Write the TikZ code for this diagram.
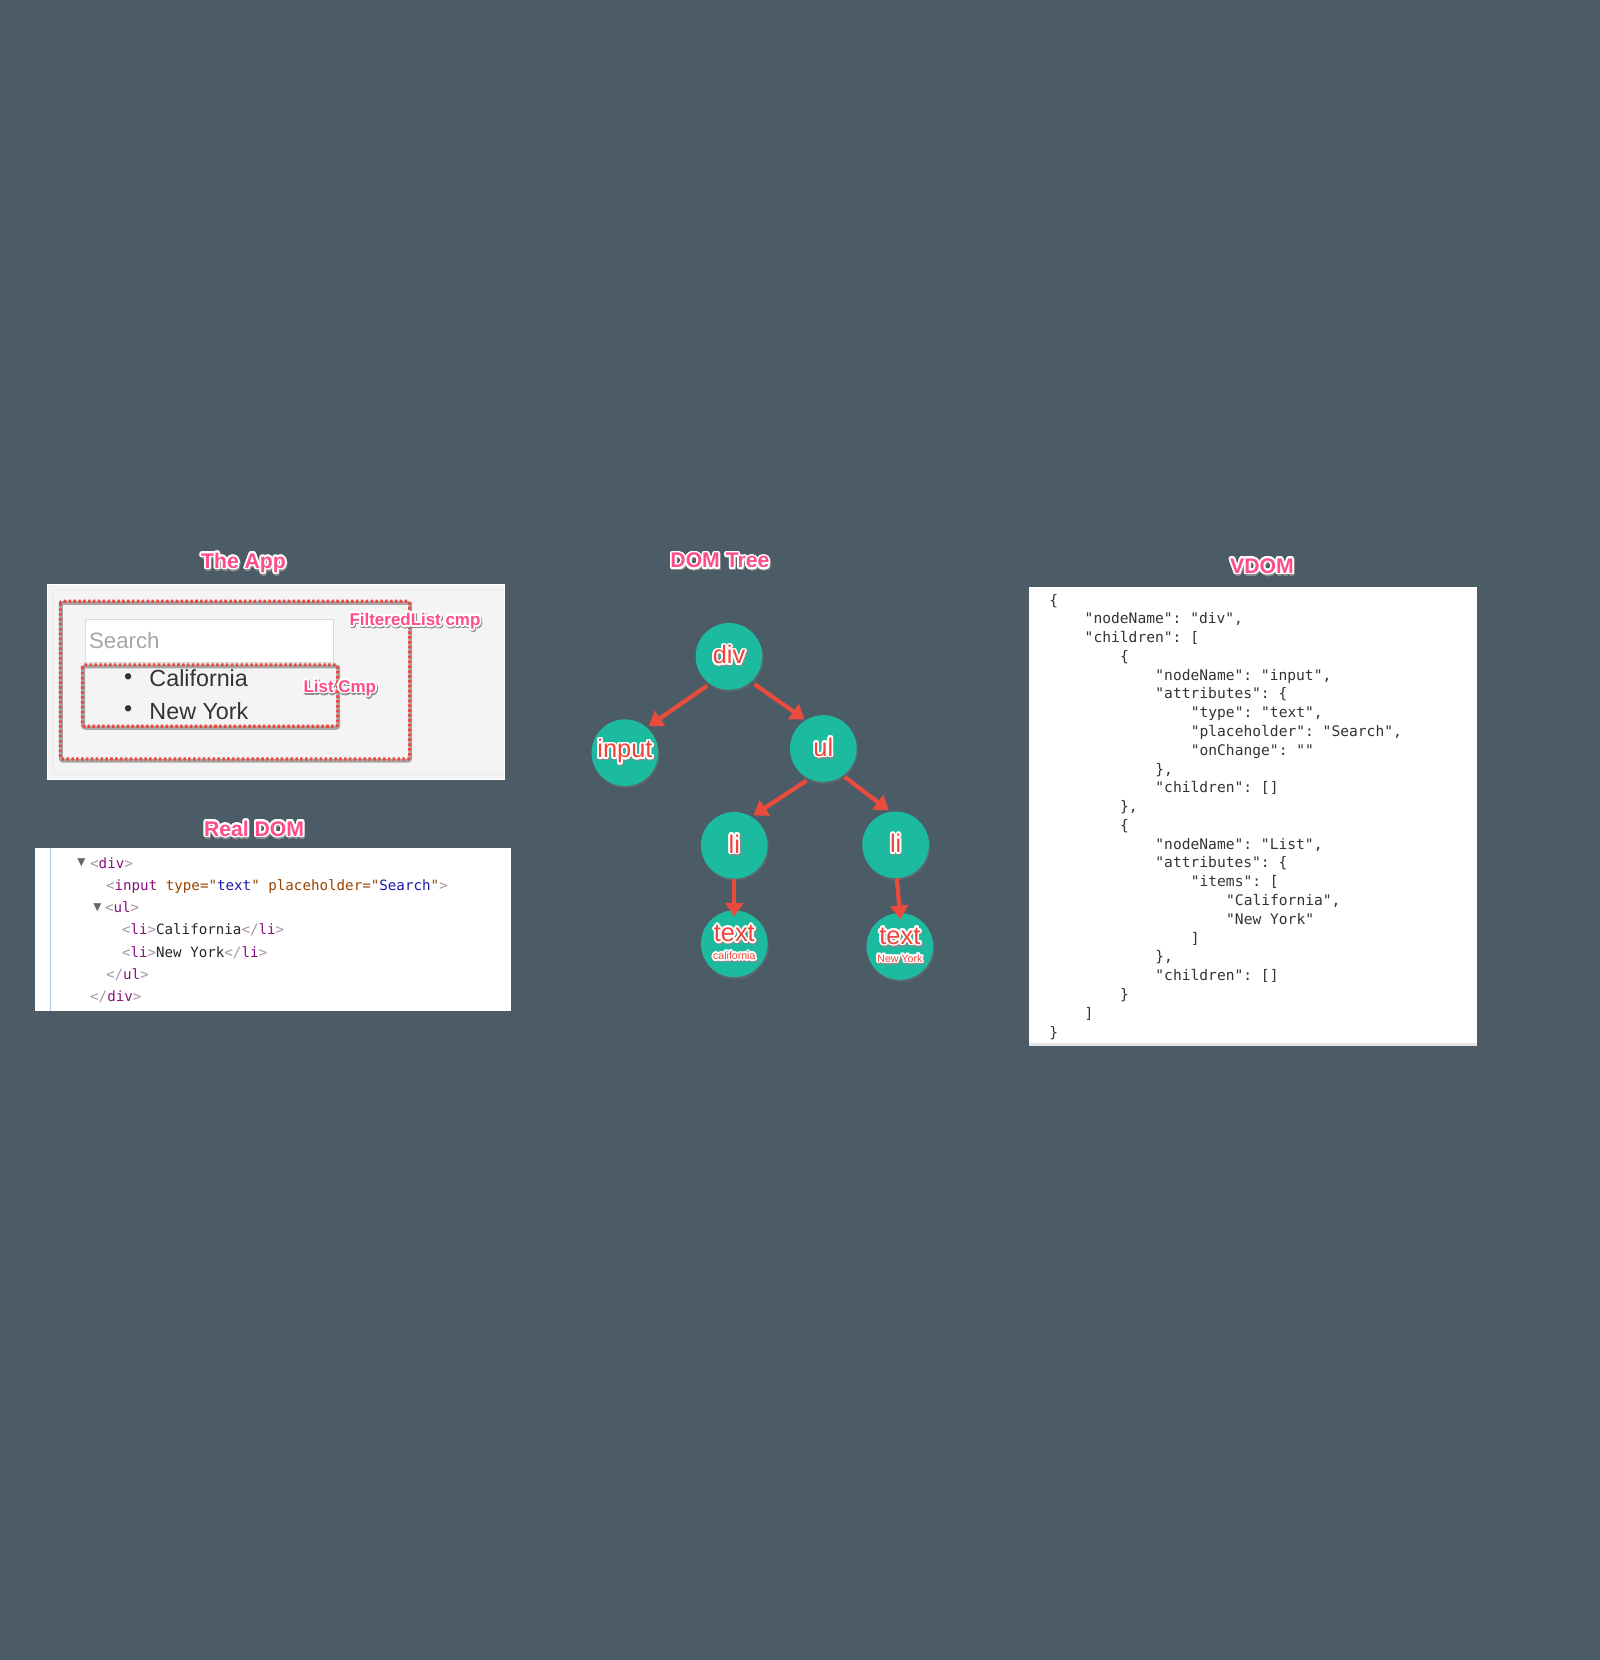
\documentclass[tikz,border=0pt]{standalone}
\usepackage{fontspec}
\setmainfont{Liberation Sans}
\newfontfamily\codefont{DejaVu Sans Mono}
\newfontfamily\symfont{DejaVu Sans}
\usepackage{xcolor}
\usepackage{contour}
\usetikzlibrary{positioning,arrows.meta,shadows}
\contourlength{1.6pt}
\contournumber{24}
\definecolor{slate}{RGB}{75,92,103}
\definecolor{panelgray}{RGB}{244,244,244}
\definecolor{nodeteal}{RGB}{28,186,158}
\definecolor{titlepink}{RGB}{255,76,138}
\definecolor{labelred}{RGB}{240,68,58}
\definecolor{arrowred}{RGB}{233,76,61}
\definecolor{dotred}{RGB}{236,72,62}
\definecolor{tagpurple}{RGB}{136,18,128}
\definecolor{attrbrown}{RGB}{153,69,0}
\definecolor{valblue}{RGB}{26,26,166}
\definecolor{brgray}{RGB}{168,148,166}
\definecolor{lineblue}{RGB}{170,198,238}
\newcommand{\outl}[1]{\makebox[0pt][l]{\hspace{0.8pt}\raisebox{-1.2pt}{\color{black!45}\contour{black!45}{#1}}}\contour{white}{#1}}
\newcommand{\br}[1]{\textcolor{brgray}{#1}}
\newcommand{\tg}[1]{\textcolor{tagpurple}{#1}}
\newcommand{\at}[1]{\textcolor{attrbrown}{#1}}
\newcommand{\vl}[1]{\textcolor{valblue}{#1}}
\tikzset{
  title/.style={font=\fontsize{20}{20}\selectfont\bfseries, text=titlepink, inner sep=0pt},
  cmplabel/.style={font=\fontsize{16}{16}\selectfont\bfseries, text=titlepink, inner sep=0pt},
  ball/.style={circle, fill=nodeteal, minimum size=63pt, inner sep=0pt, text=labelred,
    font=\fontsize{24}{24}\selectfont,
    drop shadow={opacity=0.3, shadow xshift=1pt, shadow yshift=-2pt}},
  link/.style={draw=arrowred, line width=4pt, -{Triangle[length=13pt,width=17pt]}},
  dotshade/.style={draw=black!60, line width=3.6pt, opacity=0.55, rounded corners=2pt},
  dotbox/.style={draw=dotred, line width=3pt, dash pattern=on 2.4pt off 2.2pt, rounded corners=2pt},
  code/.style={font=\codefont\fontsize{13.4}{13.4}\selectfont\frenchspacing, text=black!85, inner sep=0pt, anchor=base west},
  json/.style={font=\codefont\fontsize{13.8}{13.8}\selectfont\frenchspacing, text=black!80, inner sep=0pt, anchor=base west},
  applist/.style={font=\fontsize{22}{22}\selectfont, text=black!80, inner sep=0pt}
}
\begin{document}
\begin{tikzpicture}[x=1pt, y=-1pt]
  \fill[slate] (0,0) rectangle (1511,1568);

  % the app
  \node[title] (apptitle) at (230,533) {\outl{The App}};
  \fill[panelgray, draw=white] (45,552) rectangle (476,736);
  \begin{scope}
    \clip (45,552) rectangle (476,736);
    \draw[black!12, rounded corners=4pt] (50,557) rectangle (490,732);
  \end{scope}
  \node[draw=black!15, fill=white, minimum width=235pt, minimum height=40pt, anchor=north west,
        inner sep=0pt] (searchbox) at (80,585) {};
  \node[anchor=west, inner sep=0pt, text=black!35, font=\fontsize{21}{21}\selectfont]
        (placeholder) at (84,605) {Search};
  \node[applist] (bullet1) at (121,641) {\textbullet};
  \node[applist, anchor=west] (item1) at (141,641) {California};
  \node[applist] (bullet2) at (121,672) {\textbullet};
  \node[applist, anchor=west] (item2) at (141,672) {New York};
  \draw[dotshade] (57.5,569.5) rectangle (387.5,718.5);
  \draw[dotbox] (57,568) rectangle (387,717);
  \draw[dotshade] (78.5,629.5) rectangle (319.5,687.5);
  \draw[dotbox] (78,628) rectangle (319,686);
  \node[cmplabel] (filteredlbl) at (392,588) {\outl{FilteredList cmp}};
  \node[cmplabel] (listlbl) at (321,651) {\outl{List Cmp}};

  % real dom
  \node[title] (realtitle) at (240,784) {\outl{Real DOM}};
  \fill[white] (33,801) rectangle (483,955);
  \draw[lineblue, line width=1pt] (48,801) -- (48,955);
  \node[inner sep=0pt, text=black!60, font=\symfont\fontsize{10}{10}\selectfont] (tri1) at (77,815) {▼};
  \node[code] (r1) at (85,820) {\br{<}\tg{div}\br{>}};
  \node[code] (r2) at (100,841) {\br{<}\tg{input} \at{type="}\vl{text}\at{"} \at{placeholder="}\vl{Search}\at{"}\br{>}};
  \node[inner sep=0pt, text=black!60, font=\symfont\fontsize{10}{10}\selectfont] (tri2) at (92,857) {▼};
  \node[code] (r3) at (99,862) {\br{<}\tg{ul}\br{>}};
  \node[code] (r4) at (115,883) {\br{<}\tg{li}\br{>}California\br{</}\tg{li}\br{>}};
  \node[code] (r5) at (115,904) {\br{<}\tg{li}\br{>}New York\br{</}\tg{li}\br{>}};
  \node[code] (r6) at (100,925) {\br{</}\tg{ul}\br{>}};
  \node[code] (r7) at (85,946) {\br{</}\tg{div}\br{>}};

  % dom tree
  \node[title] (treetitle) at (680,531) {\outl{DOM Tree}};
  \node[ball] (div) at (688.6,620) {\outl{div}};
  \node[ball] (input) at (590.3,711) {\outl{input}};
  \node[ball] (ul) at (777.7,707) {\outl{ul}};
  \node[ball] (li1) at (693.6,798.5) {\outl{li}};
  \node[ball] (li2) at (846,798) {\outl{li}};
  \node[ball, align=center] (text1) at (693.6,891.5)
    {\outl{text}\\[-7pt]{\fontsize{10}{10}\selectfont\outl{california}}};
  \node[ball, align=center] (text2) at (850,894)
    {\outl{text}\\[-7pt]{\fontsize{10}{10}\selectfont\outl{New York}}};

  \draw[link, shorten <=3pt, shorten >=2pt] (div.235) -- (input.49);
  \draw[link, shorten <=4pt, shorten >=1pt] (div.311) -- (ul.122);
  \draw[link, shorten <=3pt, shorten >=2pt] (ul.245) -- (li1.59);
  \draw[link, shorten <=2pt, shorten >=2pt] (ul.306) -- (li2.99);
  \draw[link, shorten >=-6pt] (li1.south) -- (text1.north);
  \draw[link, shorten >=-6pt] (li2.272) -- (text2.north);

  % vdom
  \node[title] (vdomtitle) at (1192,536) {\outl{VDOM}};
  \fill[white] (972,554) rectangle (1395,988);
  \fill[black!10] (972,985) rectangle (1395,988);
  \foreach \lvl/\txt [count=\i from 0] in {
      0/\{, 1/{"nodeName": "div",}, 1/{"children": [}, 2/\{,
      3/{"nodeName": "input",}, 3/{"attributes": \{}, 4/{"type": "text",},
      4/{"placeholder": "Search",}, 4/{"onChange": ""}, 3/{\},}, 3/{"children": []},
      2/{\},}, 2/\{, 3/{"nodeName": "List",}, 3/{"attributes": \{}, 4/{"items": [},
      5/{"California",}, 5/{"New York"}, 4/], 3/{\},}, 3/{"children": []},
      2/\}, 1/], 0/\}}
    \node[json] (v\i) at ({991+33.4*\lvl},{571.5+17.74*\i}) {\txt};
\end{tikzpicture}
\end{document}
